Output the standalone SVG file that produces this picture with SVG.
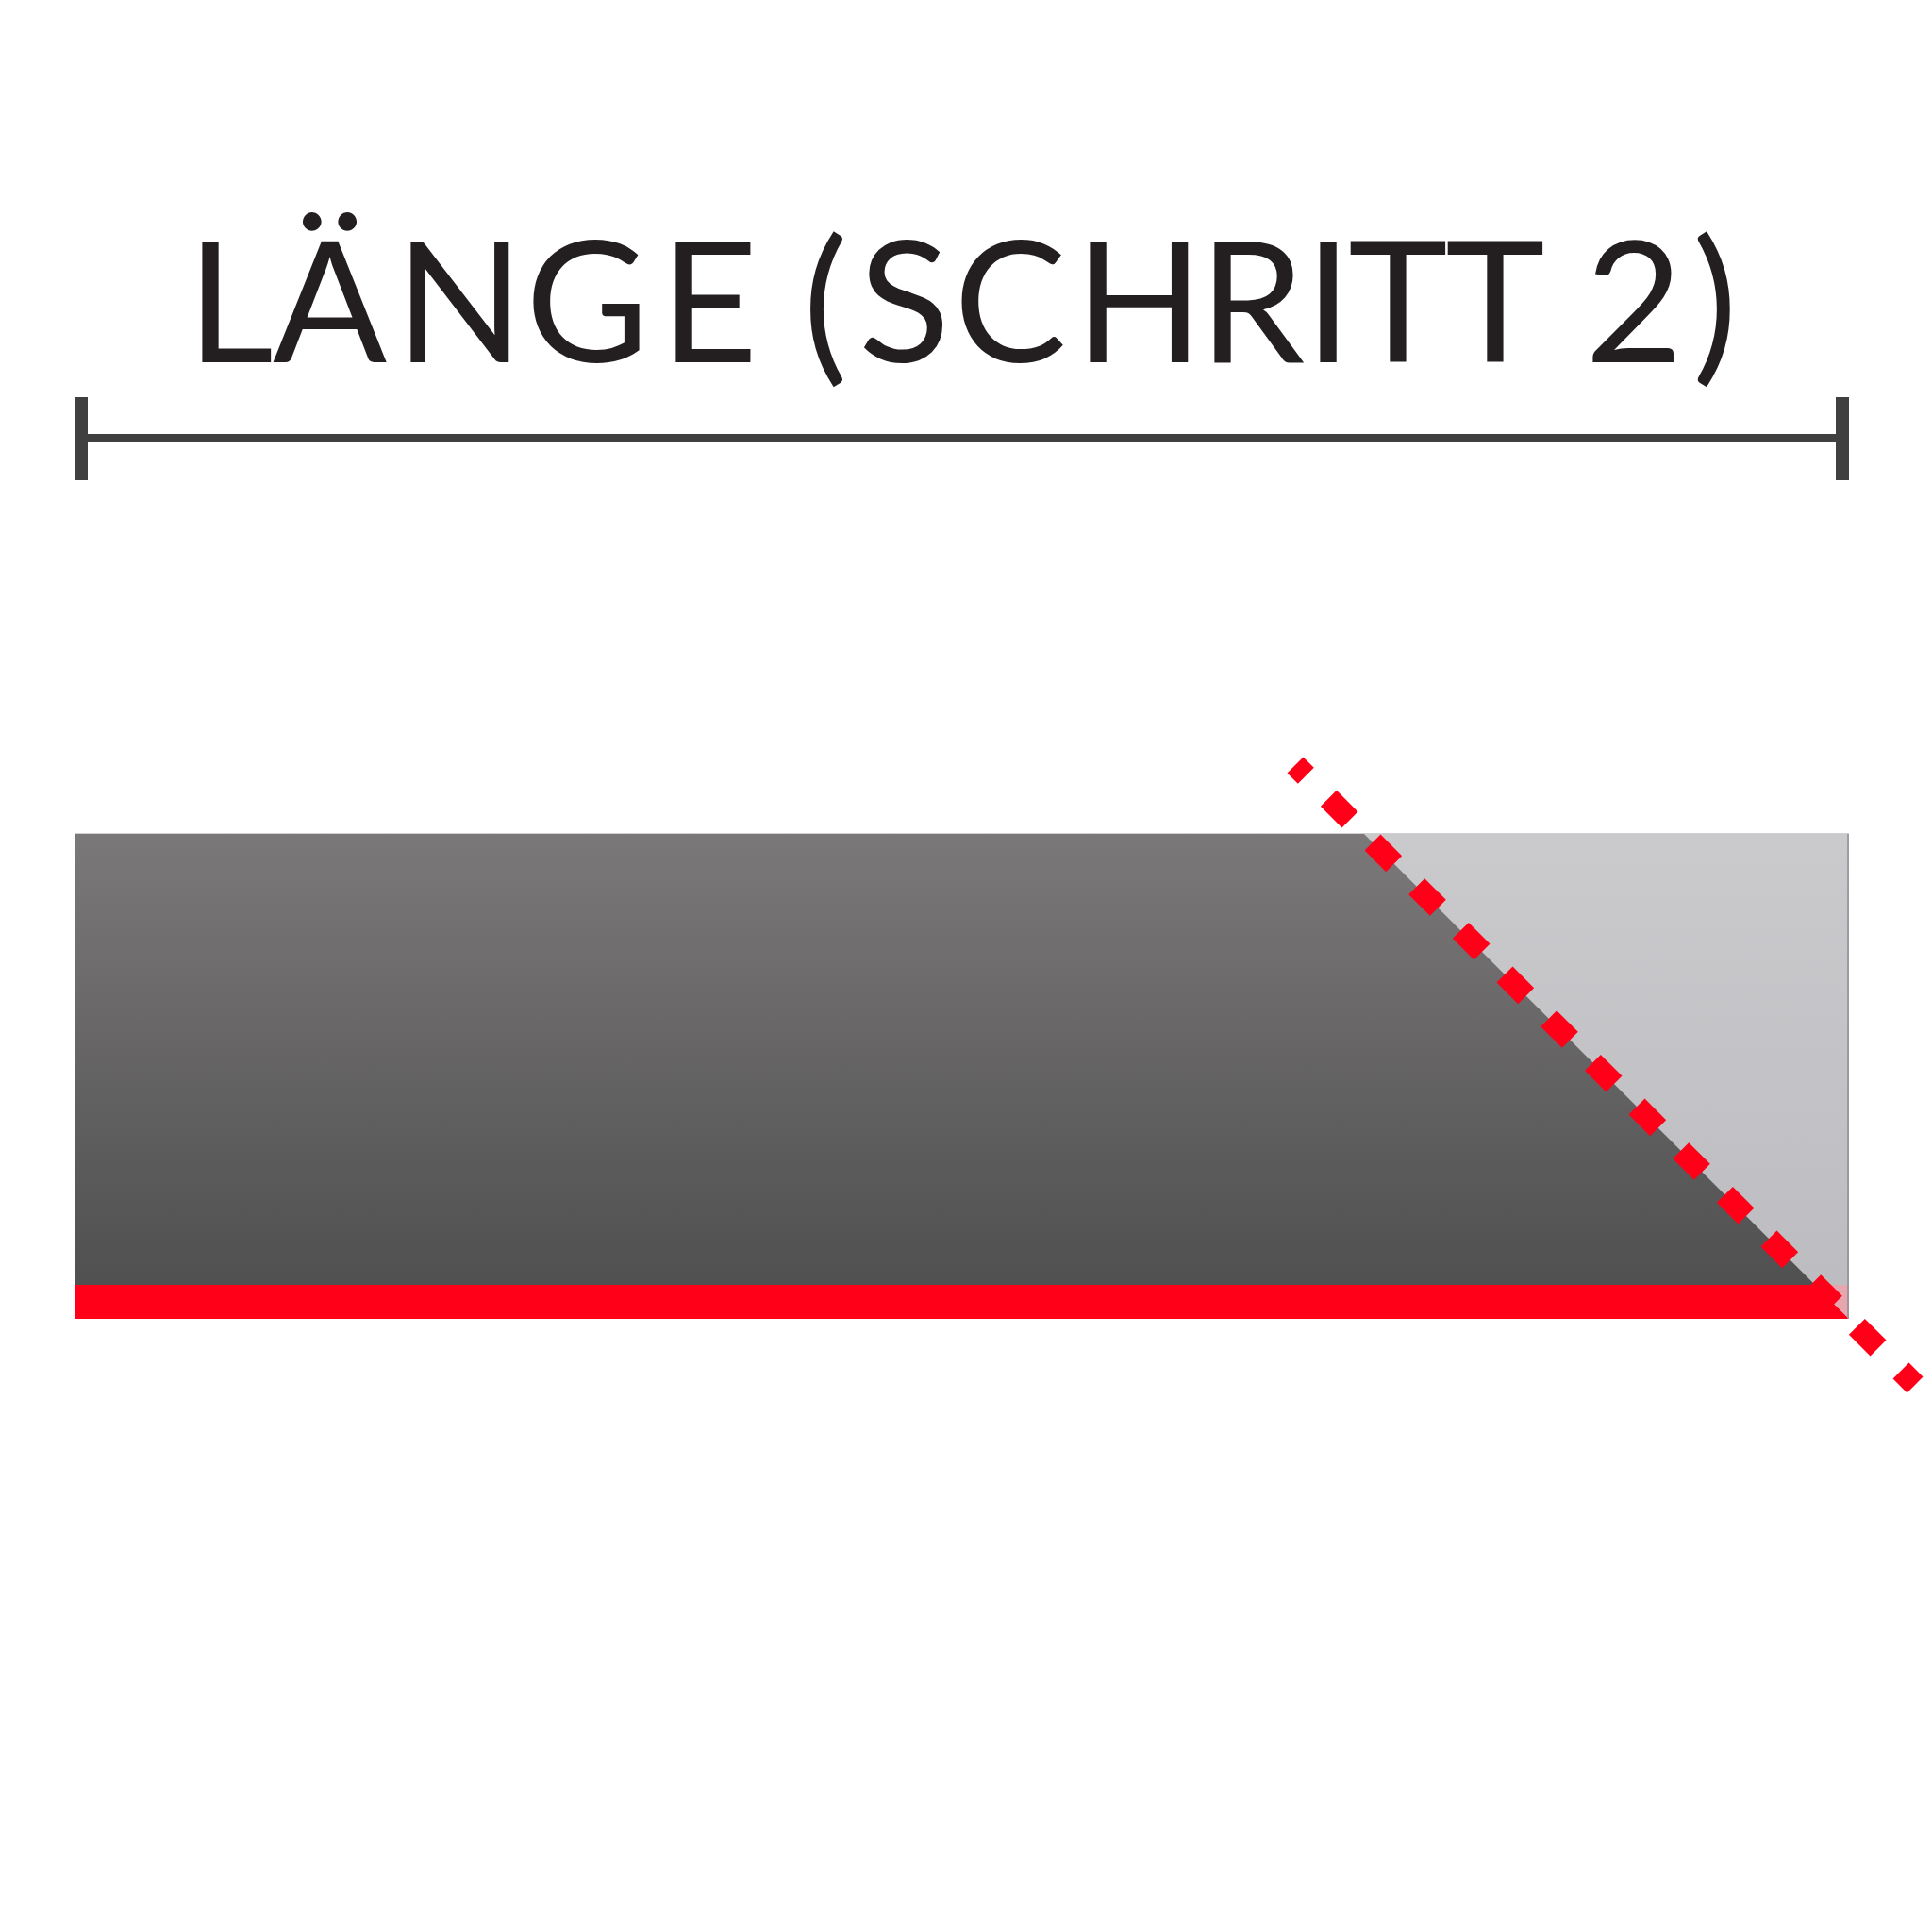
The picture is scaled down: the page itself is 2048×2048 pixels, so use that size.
<svg xmlns="http://www.w3.org/2000/svg" width="2048" height="2048" viewBox="0 0 2048 2048">
  <defs>
    <linearGradient id="darkGrad" x1="0" y1="883" x2="0" y2="1362" gradientUnits="userSpaceOnUse">
      <stop offset="0" stop-color="#7b7879"/>
      <stop offset="1" stop-color="#505050"/>
    </linearGradient>
    <linearGradient id="lightGrad" x1="0" y1="883" x2="0" y2="1398" gradientUnits="userSpaceOnUse">
      <stop offset="0" stop-color="#cacacd"/>
      <stop offset="1" stop-color="#bcbcc0"/>
    </linearGradient>
    <style>
      .title { font-family: Lato, "Liberation Sans", "DejaVu Sans", sans-serif; font-size: 179px; fill: #231f20; }
      .dim { fill: #404040; }
      .red { fill: #ff0018; }
      .dash { fill: none; stroke: #ff0018; stroke-width: 24; stroke-dasharray: 32 34; stroke-dashoffset: 16; stroke-linecap: butt; }
    </style>
  </defs>
  <rect x="0" y="0" width="2048" height="2048" fill="#ffffff"/>

  <g id="title">
    <text class="title" y="384" x="198 289 419 557 700 820 851 910 1011 1139 1271 1383 1429 1532 1640 1680 1794">LÄNGE (SCHRITT 2)</text>
  </g>

  <g id="dimension">
    <rect class="dim" x="79" y="421" width="14" height="88"/>
    <rect class="dim" x="1946" y="421" width="14" height="88"/>
    <rect class="dim" x="93" y="460" width="1853" height="9"/>
  </g>

  <g id="block">
    <rect x="80" y="883" width="1880" height="515" fill="url(#lightGrad)"/>
    <polygon points="80,883 1445,883 1924,1362 80,1362" fill="url(#darkGrad)"/>
    <polygon class="red" points="80,1362 1924,1362 1960,1398 80,1398"/>
    <polygon points="1924,1362 1960,1362 1960,1398" fill="#e7a5ae"/>
    <line x1="1959" y1="883" x2="1959" y2="1398" stroke="#8e8e92" stroke-width="1.5"/>
    <line x1="80" y1="883.5" x2="1960" y2="883.5" stroke="#d0d0d0" stroke-width="1"/>
  </g>

  <g id="connectors">
    <line class="dash" x1="1373" y1="811" x2="2030" y2="1468"/>
  </g>
</svg>
